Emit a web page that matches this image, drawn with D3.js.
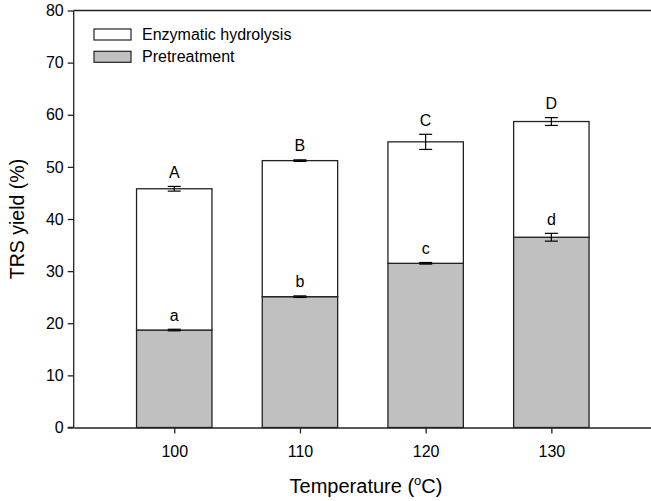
<!DOCTYPE html>
<html>
<head>
<meta charset="utf-8">
<script src="https://cdn.jsdelivr.net/npm/d3@7"></script>
<style>
  body { margin: 0; background: #fff; }
  svg { font-family: Arial, "Liberation Sans", sans-serif; }
</style>
</head>
<body>
<svg id="chart" width="651" height="501"></svg>
<script>
const temperatures = [100, 110, 120, 130];
const pretreatment = [18.7, 25.1, 31.5, 36.5];
const pretreatmentErr = [0.15, 0.15, 0.15, 0.75];
const enzymatic = [27.1, 26.1, 23.3, 22.2];
const totalErr = [0.45, 0.15, 1.45, 0.75];
const lowerLetters = ['a', 'b', 'c', 'd'];
const upperLetters = ['A', 'B', 'C', 'D'];
const yTicks = [0, 10, 20, 30, 40, 50, 60, 70, 80];
const seriesNames = ['Enzymatic hydrolysis', 'Pretreatment'];

const svg = d3.select('#chart');
const stroke = '#222';
const fill = { Pretreatment: '#c0c0c0', 'Enzymatic hydrolysis': '#ffffff' };

const x = d3.scaleLinear().domain([92, 138]).range([73.7, 651.9]);
const y = d3.scaleLinear().domain([0, 80]).range([427.5, 10.5]);
const barW = x(103) - x(97);

const rows = temperatures.map((t, i) => ({
  t,
  Pretreatment: pretreatment[i],
  'Enzymatic hydrolysis': enzymatic[i],
}));
const stack = d3.stack().keys(['Pretreatment', 'Enzymatic hydrolysis'])(rows);

// bars
svg.append('g').selectAll('g')
  .data(stack)
  .join('g')
  .attr('fill', (d) => fill[d.key])
  .selectAll('rect')
  .data((d) => d)
  .join('rect')
  .attr('x', (d) => x(d.data.t) - barW / 2)
  .attr('width', barW)
  .attr('y', (d) => y(d[1]))
  .attr('height', (d) => y(d[0]) - y(d[1]))
  .attr('stroke', stroke)
  .attr('stroke-width', 1.3);

// error bars + letters
const errs = [];
temperatures.forEach((t, i) => {
  errs.push({ t, v: pretreatment[i], e: pretreatmentErr[i], label: lowerLetters[i] });
  errs.push({ t, v: pretreatment[i] + enzymatic[i], e: totalErr[i], label: upperLetters[i] });
});
const cap = 6.5;
const eg = svg.append('g').attr('stroke', '#000').attr('stroke-width', 1.2);
errs.forEach((d) => {
  const cx = x(d.t);
  eg.append('line').attr('x1', cx).attr('x2', cx).attr('y1', y(d.v - d.e)).attr('y2', y(d.v + d.e));
  eg.append('line').attr('x1', cx - cap).attr('x2', cx + cap).attr('y1', y(d.v - d.e)).attr('y2', y(d.v - d.e));
  eg.append('line').attr('x1', cx - cap).attr('x2', cx + cap).attr('y1', y(d.v + d.e)).attr('y2', y(d.v + d.e));
});
svg.append('g').selectAll('text')
  .data(errs)
  .join('text')
  .attr('x', (d) => x(d.t))
  .attr('y', (d) => y(d.v + d.e) - 8.5)
  .attr('text-anchor', 'middle')
  .attr('font-size', 16)
  .attr('fill', '#000')
  .text((d) => d.label);

// axes
const yAxis = svg.append('g')
  .attr('transform', `translate(${x.range()[0]},0)`)
  .call(d3.axisLeft(y).tickValues(yTicks).tickSize(6).tickPadding(4));
const xAxis = svg.append('g')
  .attr('transform', `translate(0,${y(0)})`)
  .call(d3.axisBottom(x).tickValues(temperatures).tickSize(6).tickPadding(12).tickSizeOuter(0));
[yAxis, xAxis].forEach((a) => {
  a.selectAll('path, line').attr('stroke', stroke).attr('stroke-width', 1.3);
  a.selectAll('text').attr('font-size', 16).attr('fill', '#000').attr('font-family', 'Arial, "Liberation Sans", sans-serif');
});
yAxis.select('.domain').attr('d', `M-6,${y(0)}H0V${y(80)}`);
svg.append('line')
  .attr('x1', x.range()[0]).attr('x2', 651)
  .attr('y1', y(80)).attr('y2', y(80))
  .attr('stroke', stroke).attr('stroke-width', 1.3);

// axis titles
svg.append('text')
  .attr('transform', `translate(24,${(y(0) + y(80)) / 2}) rotate(-90)`)
  .attr('text-anchor', 'middle')
  .attr('font-size', 19.5)
  .text('TRS yield (%)');
const xt = svg.append('text')
  .attr('x', 366)
  .attr('y', 493)
  .attr('text-anchor', 'middle')
  .attr('font-size', 20);
xt.append('tspan').text('Temperature (');
xt.append('tspan').attr('font-size', 13).attr('dy', -8).text('o');
xt.append('tspan').attr('dy', 8).text('C)');

// legend
const legend = svg.append('g').selectAll('g')
  .data(seriesNames)
  .join('g')
  .attr('transform', (d, i) => `translate(94,${29 + i * 22.3})`);
legend.append('rect')
  .attr('width', 37).attr('height', 11)
  .attr('fill', (d) => fill[d])
  .attr('stroke', stroke).attr('stroke-width', 1.2);
legend.append('text')
  .attr('x', 48).attr('y', 10.5)
  .attr('font-size', 16)
  .text((d) => d);
</script>
</body>
</html>
